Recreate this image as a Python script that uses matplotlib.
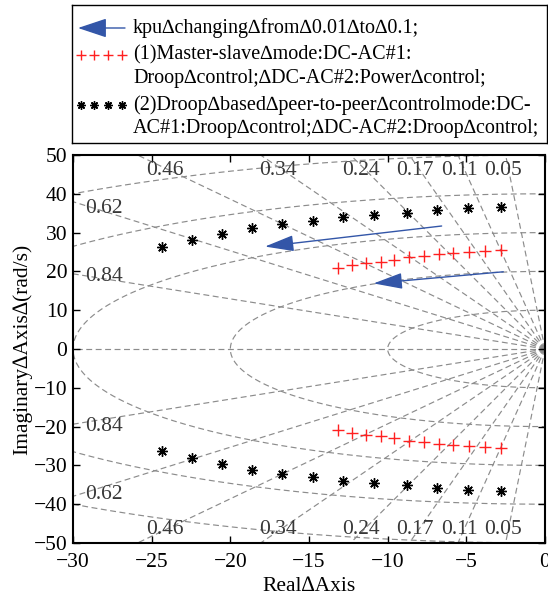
import numpy as np
import matplotlib
matplotlib.use("Agg")
import matplotlib.pyplot as plt

plt.rcParams['font.family'] = ['Liberation Serif', 'DejaVu Serif']
plt.rcParams['axes.unicode_minus'] = True

# ---------------- data ----------------
black_re = [-24.36, -22.42, -20.51, -18.60, -16.70, -14.73, -12.82, -10.87, -8.79, -6.88, -4.87, -2.82]
black_im = [26.4, 28.0, 29.7, 31.1, 32.1, 32.9, 34.0, 34.6, 35.1, 35.8, 36.4, 36.6]
red_re = [-13.14, -12.25, -11.38, -10.44, -9.58, -8.64, -7.67, -6.74, -5.83, -4.81, -3.81, -2.80]
red_im = [20.75, 21.6, 22.1, 22.55, 23.0, 23.6, 24.0, 24.4, 24.65, 25.0, 25.25, 25.5]

arrow_tail_re = [-6.57, -2.65]
arrow_tail_im = [31.7, 19.9]
arrow_head_re = [-17.8, -10.9]
arrow_head_im = [26.4, 16.9]

zetas = [0.05, 0.11, 0.17, 0.24, 0.34, 0.46, 0.62, 0.84]
wns = [10, 20, 30, 40, 50, 60, 70]

xticks = [-30, -25, -20, -15, -10, -5, 0]
yticks = [-50, -40, -30, -20, -10, 0, 10, 20, 30, 40, 50]

legend_texts = [
    "kpu\u2206changing\u2206from\u22060.01\u2206to\u22060.1;",
    "(1)Master-slave\u2206mode:DC-AC#1:\nDroop\u2206control;\u2206DC-AC#2:Power\u2206control;",
    "(2)Droop\u2206based\u2206peer-to-peer\u2206controlmode:DC-\nAC#1:Droop\u2206control;\u2206DC-AC#2:Droop\u2206control;",
]

# ---------------- figure ----------------
W, H = 548, 600
fig = plt.figure(figsize=(W / 100, H / 100), dpi=100)
ax = fig.add_axes([73 / W, 1 - 543 / H, 472 / W, 388 / H])

grid_kw = dict(color='0.55', lw=0.85, ls=(0, (5, 3)), zorder=1)
R = 120
for z in zetas:
    s = np.sqrt(1 - z ** 2)
    for sg in (1, -1):
        ax.plot([0, -R * z], [0, sg * R * s], **grid_kw)
ax.plot([0, -R], [0, 0], **grid_kw)
t = np.linspace(np.pi / 2, 3 * np.pi / 2, 400)
for wn in wns:
    ax.plot(wn * np.cos(t), wn * np.sin(t), **grid_kw)

# damping labels
lab_kw = dict(color='0.22', fontsize=15.5, ha='center', va='center', zorder=2)
for z in zetas:
    s = np.sqrt(1 - z ** 2)
    slope = s / z
    xt = -46.0 / slope
    if xt > -28:
        ax.text(xt - 0.35, 46.0, f"{z:.2f}", **lab_kw)
        ax.text(xt - 0.35, -46.6, f"{z:.2f}", **lab_kw)
    else:
        xl = -28.05
        yl = -xl * slope + 0.6
        ax.text(xl, yl, f"{z:.2f}", **lab_kw)
        ax.text(xl, -yl - 1.3, f"{z:.2f}", **lab_kw)

# data
mk_star = dict(ls='none', marker=(8, 2, 0), ms=7.5, mew=1.0, color='k', zorder=4)
mk_plus = dict(ls='none', marker='+', ms=8, mew=1.0, color='#ff2020', zorder=4)
ax.plot(black_re, black_im, **mk_star)
ax.plot(black_re, [-v for v in black_im], **mk_star)
ax.plot(red_re, red_im, **mk_plus)
ax.plot(red_re, [-v for v in red_im], **mk_plus)

acol = '#3356a8'
for xt_, yt_, xh_, yh_ in zip(arrow_tail_re, arrow_tail_im, arrow_head_re, arrow_head_im):
    ax.annotate('', xy=(xh_, yh_), xytext=(xt_, yt_),
                arrowprops=dict(arrowstyle='-|>,head_length=0.9,head_width=0.25',
                                mutation_scale=20, color=acol, lw=1.0,
                                shrinkA=0, shrinkB=0), zorder=5)

ax.set_xlim(-30, 0)
ax.set_ylim(-50, 50)
ax.set_xticks(xticks)
ax.set_yticks(yticks)
ax.tick_params(direction='in', length=5, width=1.0, labelsize=15.5, top=True, right=True)
ax.tick_params(axis='x', pad=7)
ax.tick_params(axis='y', pad=4)
for sp in ax.spines.values():
    sp.set_linewidth(1.5)
ax.set_xlabel("Real\u2206Axis", fontsize=15.5, labelpad=4)
ax.set_ylabel("Imaginary\u2206Axis\u2206(rad/s)", fontsize=15.5, labelpad=1)

# ---------------- legend (manual box) ----------------
lx0, ly0, lx1, ly1 = 72, 5, 547, 143
lax = fig.add_axes([lx0 / W, 1 - ly1 / H, (lx1 - lx0) / W, (ly1 - ly0) / H])
lax.set_xlim(0, lx1 - lx0)
lax.set_ylim(ly1 - ly0, 0)
lax.set_xticks([])
lax.set_yticks([])
for sp in lax.spines.values():
    sp.set_linewidth(1.0)
    sp.set_color('k')

lax.annotate('', xy=(6, 23), xytext=(53, 23),
             arrowprops=dict(arrowstyle='-|>,head_length=0.9,head_width=0.3',
                             mutation_scale=20, color=acol, lw=1.0, shrinkA=0, shrinkB=0))
mx = [9, 22, 36, 50]
lax.plot(mx, [50] * 4, ls='none', marker='+', ms=7, mew=1.0, color='#ff2020')
lax.plot(mx, [100] * 4, ls='none', marker=(8, 2, 0), ms=6, mew=1.0, color='k')
txt_kw = dict(fontsize=14.5, ha='left', va='center', linespacing=1.28)
lax.text(61, 23, legend_texts[0], **txt_kw)
lax.text(61, 61.5, legend_texts[1], **txt_kw)
lax.text(61, 111.5, legend_texts[2], **txt_kw)

fig.savefig("out.png", dpi=100)
